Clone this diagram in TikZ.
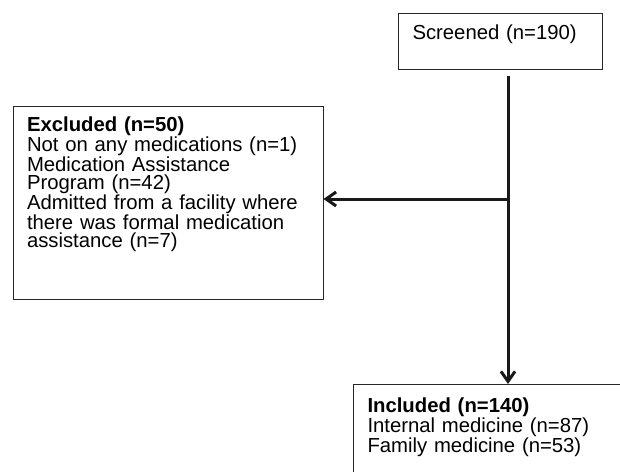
\documentclass[tikz,border=0pt]{standalone}
\usepackage{fontspec}
\setmainfont{Liberation Sans}
\usetikzlibrary{arrows.meta}

\begin{document}
\begin{tikzpicture}[
  x=1pt, y=-1pt,
  font=\fontsize{20.3}{18.2}\selectfont,
  box/.style={draw=black!85, line width=1pt, align=left,
    inner xsep=14pt, inner ysep=0pt, anchor=north west},
  arr/.style={-{Straight Barb[length=10pt, width=14pt]}, line width=3pt,
    black!90},
]
\clip (0,0) rectangle (620,471);

\node[box, text width=176pt, text height=26.3pt, text depth=29.7pt]
  (screened) at (398,13) {Screened (n=190)};

\node[box, text width=282pt, text height=25pt, text depth=168pt]
  (excl) at (12.5,106) {%
  \textbf{Excluded (n=50)}\\
  Not on any medications (n=1)\\
  Medication Assistance\\
  Program (n=42)\\
  Admitted from a facility where\\
  there was formal medication\\
  assistance (n=7)};

\node[box, text width=300pt, text height=27.7pt, text depth=120pt]
  (incl) at (353,384) {%
  \textbf{Included (n=140)}\\
  Internal medicine (n=87)\\
  Family medicine (n=53)};

\coordinate (split) at (508,199);
\draw[arr, shorten <=6pt] (screened.south -| split) -- (incl.north -| split);
\draw[arr] (split) -- (excl.east |- split);

\end{tikzpicture}
\end{document}
